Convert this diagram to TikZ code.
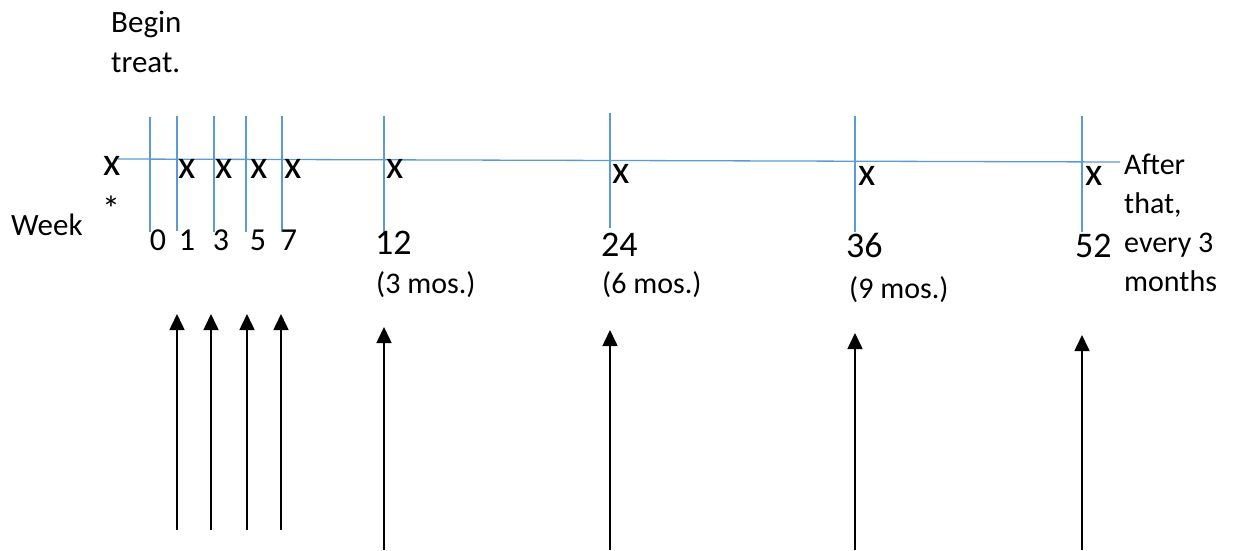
\documentclass[tikz,border=0pt]{standalone}
\usepackage{fontspec}
\setmainfont{Carlito}
\usetikzlibrary{arrows.meta}
\definecolor{tickblue}{HTML}{5B9BD5}
\begin{document}
\begin{tikzpicture}[x=1pt,y=-1pt,
  tickline/.style={draw=tickblue,line width=1.3pt},
  axisline/.style={draw=tickblue,line width=1.3pt},
  xmk/.style={anchor=base,inner sep=0pt,font=\fontsize{40}{48}\selectfont},
  smalldig/.style={anchor=base,inner sep=0pt,font=\fontsize{32}{39}\selectfont},
  bigdig/.style={anchor=base west,inner sep=0pt,font=\fontsize{36}{44}\selectfont},
  lbl/.style={anchor=base west,inner sep=0pt,font=\fontsize{30}{37}\selectfont},
  uparrow/.style={draw=black,line width=1.6pt,-{Triangle[width=15pt,length=16pt]}}
]
\useasboundingbox (0,0) rectangle (1236,550);

% axis
\coordinate (axL) at (118,159);
\coordinate (axR) at (1120,162);
\draw[axisline] (axL) -- (axR);

% ticks
\foreach \i/\x/\a/\b in {1/150/117/232, 2/177/116/231, 3/214/116/232, 4/246/116/232, 5/282/116/232, 6/384/116/232, 7/610/113/228, 8/855/116/232, 9/1082/116/232}{
  \coordinate (ta\i) at (\x,\a);
  \coordinate (tb\i) at (\x,\b);
  \draw[tickline] (ta\i) -- (tb\i);
}

% x marks
\node[xmk] (x0) at (112,175) {x};
\node[anchor=base,inner sep=0pt,font=\fontsize{36}{44}\selectfont] (star) at (111,221) {*};
\node[xmk] (x1) at (187,178) {x};
\node[xmk] (x3) at (224,178) {x};
\node[xmk] (x5) at (259,178) {x};
\node[xmk] (x7) at (293,178) {x};
\node[xmk] (x12) at (395,178) {x};
\node[xmk] (x24) at (621,183) {x};
\node[xmk] (x36) at (867,185) {x};
\node[xmk] (x52) at (1094,185) {x};

% week numbers
\node[smalldig] (w0) at (158,250) {0};
\node[smalldig] (w1) at (187,250) {1};
\node[smalldig] (w3) at (221,250) {3};
\node[smalldig] (w5) at (258,250) {5};
\node[smalldig] (w7) at (289,250) {7};
\node[bigdig] (w12) at (375,254) {12};
\node[bigdig] (w24) at (601,256) {24};
\node[bigdig] (w36) at (846,257) {36};
\node[bigdig] (w52) at (1075,257) {52};

\node[lbl] (m3) at (376,293) {(3 mos.)};
\node[lbl] (m6) at (602,293) {(6 mos.)};
\node[lbl] (m9) at (849,298) {(9 mos.)};

\node[lbl,font=\fontsize{31}{38}\selectfont] (week) at (11,235) {Week};
\node[lbl,font=\fontsize{31}{40}\selectfont] (begin) at (111,32)
  {\vtop{\hbox{Begin}\hbox{treat.}}};
\node[lbl] (after) at (1124,174)
  {\vtop{\baselineskip=39pt\hbox{After}\hbox{that,}\hbox{every 3}\hbox{months}}};

% arrows
\foreach \i/\x/\t/\b in {1/177/314/530, 2/211/314/530, 3/247/314/530, 4/281/314/530, 5/384/327/550, 6/610/330/550, 7/855/333/550, 8/1082/335/550}{
  \coordinate (ab\i) at (\x,\b);
  \coordinate (at\i) at (\x,\t);
  \draw[uparrow] (ab\i) -- (at\i);
}
\end{tikzpicture}
\end{document}
